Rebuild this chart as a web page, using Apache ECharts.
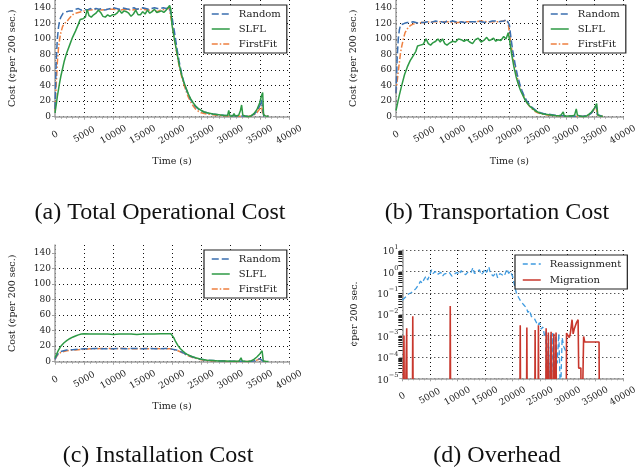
<!DOCTYPE html>
<html>
<head>
<meta charset="utf-8">
<script src="https://cdn.jsdelivr.net/npm/echarts@6/dist/echarts.min.js"></script>
<style>html,body{margin:0;padding:0;background:#fff;}#c{width:640px;height:472px;}</style>
</head>
<body>
<div id="c"></div>
<script>
// ---------- data (time in s, value) ----------
const xTicks = [0, 5000, 10000, 15000, 20000, 25000, 30000, 35000, 40000];
const costTicks = [0, 20, 40, 60, 80, 100, 120, 140];
const captions = ['(a) Total Operational Cost', '(b) Transportation Cost', '(c) Installation Cost', '(d) Overhead'];
const costSeriesNames = ['Random', 'SLFL', 'FirstFit'];
const overheadSeriesNames = ['Reassignment', 'Migration'];

const randomTotal = [[0,10],[200,70],[400,100],[600,115],[800,124],[1000,128],[1400,133],[2000,135],[2500,136],[3000,136],[3500,138],[4000,139],[4500,137],[5000,138],[5500,137],[6000,139],[6500,138],[7000,139],[7500,138],[8000,139],[8500,137],[9000,138],[9500,139],[10000,140],[10500,139],[11000,138],[11500,140],[12000,139],[12500,138],[13000,139],[13500,140],[14000,138],[14500,139],[15000,140],[15500,139],[16000,138],[16500,139],[17000,140],[17500,139],[18000,139],[18500,140],[19000,139],[19500,141],[19800,140],[20000,128],[20400,110],[20800,90],[21200,72],[21600,57],[22000,45],[22400,36],[22800,28],[23200,22],[23600,17],[24000,13],[24500,10],[25000,7.5],[25500,6],[26000,5],[27000,3.5],[28000,2.5],[29000,1.5],[30000,1.5],[31000,1],[32000,1],[33000,0.5],[33500,1],[34000,3],[34500,7],[35000,14],[35300,22],[35500,10],[35700,1],[36500,0.5]];
const slflTotal = [[0,5],[200,15],[400,26],[600,35],[800,44],[1000,52],[1300,62],[1600,72],[2000,82],[2500,92],[3000,102],[3500,110],[4000,119],[4300,125],[4800,126],[5200,128],[5500,138],[5800,130],[6200,128],[6600,131],[7000,133],[7400,137],[7800,134],[8200,129],[8600,128],[9000,131],[9400,129],[9800,131],[10200,131],[10600,133],[11000,137],[11400,133],[11800,136],[12200,135],[12600,133],[13000,129],[13400,132],[13800,137],[14200,131],[14600,131],[15000,135],[15400,132],[15800,137],[16200,133],[16600,135],[17000,138],[17400,134],[17800,135],[18200,136],[18600,134],[19000,137],[19300,138],[19600,143],[19800,138],[20000,118],[20400,100],[20800,84],[21200,68],[21600,55],[22000,45],[22400,37],[22800,29],[23200,23],[23600,18],[24000,14],[24500,10.5],[25000,8],[25500,6],[26000,5],[27000,3.5],[28000,2.5],[29000,1.5],[29500,1.5],[29700,8],[29900,1],[30400,1],[30600,4],[30800,1],[31400,2],[31700,8],[31900,15],[32100,2],[32500,1],[33000,0],[33500,1],[34000,4],[34500,9],[35000,18],[35300,27],[35500,31],[35650,2],[36000,1],[36500,0.5]];
const firstFitTotal = [[0,8],[200,40],[400,70],[600,88],[800,100],[1000,108],[1300,116],[1600,120],[2000,122],[2500,127],[3000,131],[3500,133],[4000,134],[4500,135],[5000,136],[5500,137],[6000,137],[7000,138],[8000,137],[9000,138],[10000,138],[11000,137],[12000,138],[13000,137],[14000,138],[15000,138],[16000,137],[17000,136],[17500,135],[18000,137],[19000,138],[19500,140],[19800,138],[20000,120],[20400,100],[20800,82],[21200,66],[21600,53],[22000,42],[22400,33],[22800,25],[23200,19],[23600,14],[24000,10],[24500,7],[25000,5],[25500,4],[26000,3.5],[27000,2.5],[28000,1.5],[29000,1],[30000,0.8],[31000,0.5],[32000,0.5],[33000,0.3],[34000,2],[34500,5],[35000,10],[35300,15],[35500,3],[35700,0.5],[36500,0.2]];

const randomTransport = [[0,30],[200,75],[400,100],[600,112],[800,118],[1000,120],[1500,120],[2000,121],[2500,121],[3000,122],[3500,121],[4000,120],[4500,121],[5000,121],[5500,122],[6000,121],[7000,123],[7500,122],[8000,122],[8500,121],[9000,123],[9500,122],[10000,123],[11000,121],[11500,122],[12000,121],[13000,122],[14000,122],[14500,123],[15000,122],[16000,121],[17000,123],[17500,123],[18000,122],[19000,123],[19500,125],[19800,124],[20000,118],[20300,100],[20600,85],[21000,68],[21400,54],[21800,43],[22200,34],[22600,27],[23000,21],[23500,16],[24000,12],[24500,9],[25000,6.5],[25500,5],[26000,4],[27000,3],[28000,2],[29000,1.5],[30000,1],[31000,1],[32000,0.5],[33000,0.5],[34000,2],[34500,5],[35000,10],[35300,15],[35500,3],[35700,0.5],[36500,0.3]];
const slflTransport = [[0,8],[300,18],[600,28],[1000,40],[1500,54],[2000,64],[2500,72],[3000,78],[3500,84],[3800,91],[4300,92],[4800,93],[5300,100],[5700,94],[6100,92],[6500,95],[7000,97],[7400,100],[7800,96],[8200,100],[8600,94],[9000,92],[9500,95],[10000,97],[10500,96],[11000,100],[11500,99],[12000,97],[12500,99],[13000,96],[13500,94],[14000,99],[14500,101],[15000,96],[15500,98],[16000,102],[16400,98],[16800,99],[17200,101],[17600,97],[18000,99],[18500,98],[19000,103],[19400,100],[19800,108],[20000,100],[20400,80],[20800,64],[21200,51],[21600,41],[22000,33],[22400,27],[22800,21],[23200,17],[23600,13.5],[24000,11],[24500,8],[25000,6],[25500,4.5],[26000,3.5],[27000,2.5],[28000,1.5],[29000,1],[29300,1],[29500,6],[29700,0.5],[30500,1],[30800,3],[31000,1],[31500,2],[31800,10],[32000,2],[32500,1],[33000,0],[33500,0.5],[34000,3],[34500,6],[35000,11],[35400,17],[35600,2],[36000,1],[36500,0.5]];
const firstFitTransport = [[0,30],[200,45],[400,58],[600,70],[800,82],[1000,90],[1300,100],[1600,108],[2000,113],[2500,117],[3000,119],[3500,120],[4000,120],[4500,121],[5000,121],[6000,122],[7000,122],[8000,122],[9000,122],[10000,121],[11000,121],[12000,122],[13000,122],[14000,122],[15000,123],[16000,122],[17000,122],[18000,122],[19000,123],[19500,124],[19800,120],[20000,108],[20300,92],[20600,78],[21000,62],[21400,50],[21800,40],[22200,32],[22600,25],[23000,19],[23500,14],[24000,10],[24500,7],[25000,5],[25500,4],[26000,3],[27000,2],[28000,1.5],[29000,1],[30000,0.8],[31000,0.5],[32000,0.5],[33000,0.3],[34000,2],[34500,5],[35000,10],[35300,15],[35500,2],[35700,0.5],[36500,0.2]];

const randomInstall = [[0,3],[300,8],[600,11],[1000,13],[1500,14],[2000,15],[3000,15.5],[4000,16],[5000,16.5],[6000,16.5],[7000,17],[8000,16.5],[9000,16.5],[10000,16.5],[11000,17],[12000,16.5],[13000,17],[14000,17],[15000,16.5],[16000,17],[17000,16.5],[18000,16.5],[19000,17],[19800,16.5],[20000,16],[20500,15.5],[21000,14.5],[21500,13],[22000,11],[22500,9],[23000,7.5],[23500,6],[24000,5],[24500,4],[25000,3],[26000,2],[27000,1.5],[28000,1],[29000,0.8],[30000,0.5],[31000,0.5],[32000,0.5],[33000,0.3],[34000,1],[34500,2],[35000,4],[35300,6],[35500,1],[36000,0.3]];
const slflInstall = [[0,5],[300,10],[600,15],[1000,20],[1500,24],[2000,27],[2500,29.5],[3000,31.5],[3500,33],[4000,34.5],[4500,35.5],[5000,36],[6000,35.5],[7000,35.5],[8000,35.5],[9000,35.5],[10000,35],[11000,35.5],[12000,35.5],[13000,35.5],[14000,35],[15000,35.5],[16000,35.5],[17000,35.5],[18000,36],[19000,36],[19800,36],[20000,35],[20300,31],[20600,26],[21000,21],[21400,17],[21800,14],[22200,11.5],[22600,9.5],[23000,8],[23500,6.5],[24000,5],[24500,4],[25000,3],[26000,2],[27000,1.5],[28000,1],[29000,0.8],[30000,0.6],[31000,0.5],[31500,1],[31800,5],[32000,1],[32500,0.5],[33000,0.3],[33500,1],[34000,3],[34500,6],[35000,10],[35400,14],[35600,1],[36000,0.5],[36500,0.3]];
const firstFitInstall = [[0,3],[300,7],[600,10],[1000,12],[1500,13],[2000,14],[3000,15],[4000,15.5],[5000,16],[6000,16.5],[7000,16.5],[8000,17],[9000,17],[10000,16.5],[11000,17],[12000,17],[13000,16.5],[14000,16.5],[15000,17],[16000,16.5],[17000,17],[18000,16.5],[19000,16.5],[19800,16.5],[20000,16],[20500,15],[21000,14],[21500,12.5],[22000,10.5],[22500,8.5],[23000,7],[23500,5.5],[24000,4.5],[24500,3.5],[25000,2.5],[26000,1.5],[27000,1],[28000,0.8],[29000,0.5],[30000,0.3],[31000,0.3],[32000,0.3],[33000,0.2],[34000,1],[34500,2],[35000,3.5],[35300,5],[35500,1],[36000,0.2]];

const reassignment = [[0,0.045],[200,0.05],[500,0.06],[800,0.07],[1200,0.09],[1600,0.1],[2000,0.12],[2500,0.16],[3000,0.25],[3300,0.35],[3600,0.28],[4000,0.45],[4300,0.6],[4600,0.4],[5000,0.7],[5300,1.2],[5600,0.8],[6000,1.0],[6300,0.7],[6600,0.8],[7000,0.9],[7300,0.6],[7600,0.75],[8000,0.8],[8500,0.9],[9000,0.6],[9300,0.5],[9600,0.8],[10000,0.9],[10300,0.7],[10700,1.1],[11000,0.8],[11500,0.7],[12000,1.0],[12500,0.9],[12800,1.5],[13100,0.8],[13500,0.9],[14000,1.2],[14300,0.7],[14700,0.9],[15000,1.3],[15300,0.9],[15700,1.6],[16000,0.8],[16500,0.6],[17000,0.9],[17300,0.5],[17700,0.8],[18000,0.9],[18500,0.6],[19000,1.3],[19300,0.8],[19600,1.0],[20000,0.6],[20400,0.2],[20700,0.1],[21100,0.06],[21500,0.04],[21900,0.03],[22200,0.025],[22500,0.02],[22800,0.012],[23100,0.015],[23400,0.008],[23700,0.009],[24000,0.006],[24300,0.005],[24600,0.003],[24900,0.004],[25200,0.002],[25500,0.0025],[25800,0.001],[26000,0.0015],[26200,0.000001],[26500,0.0012],[26700,0.000001],[26900,0.001],[27100,0.00002],[27300,0.0013],[27500,0.000001],[27800,0.001],[28100,0.00005],[28400,0.0012],[28700,0.000001],[29000,0.0008],[29300,0.0003],[29600,0.0002],[29800,0.0002]];
const migration = [[0,1e-9],[200,1e-9],[300,0.001],[400,1e-9],[700,1e-9],[800,0.0022],[900,1e-9],[1800,1e-9],[1900,0.008],[2000,1e-9],[8600,1e-9],[8700,0.024],[8800,1e-9],[21300,1e-9],[21400,0.003],[21500,1e-9],[22500,1e-9],[22600,0.0024],[22700,1e-9],[24000,1e-9],[24100,0.0018],[24200,1e-9],[24600,1e-9],[24700,0.003],[24800,1e-9],[26000,1e-9],[26100,0.0022],[26200,1e-9],[26400,1e-9],[26500,0.0014],[26600,1e-9],[26900,1e-9],[27000,0.0015],[27100,1e-9],[27400,1e-9],[27500,0.0012],[27600,1e-9],[27800,1e-9],[27900,0.0014],[28000,1e-9],[29700,1e-9],[29800,0.0013],[30100,0.0015],[30300,0.0008],[30500,0.0013],[30800,0.0055],[31000,0.0012],[31200,0.002],[31600,0.004],[31900,0.0055],[32000,0.00003],[32400,0.00003],[32500,1e-9],[32800,1e-9],[32900,0.0009],[33100,0.0005],[35700,0.0005],[35800,1e-9],[40000,1e-9]];

// ---------- style ----------
const C_RANDOM = '#3b6fb0', C_SLFL = '#2e9a45', C_FF = '#ee8040', C_REA = '#3f9be0', C_MIG = '#c8372d';
const DASH_RANDOM = [7, 3], DASH_FF = [6, 2, 1.5, 2], DASH_REA = [5, 3];
const SERIF = 'DejaVu Serif';
const grids = [
  {left: 55, top: 0, width: 234, height: 116.7},
  {left: 396, top: 0, width: 234, height: 116.7},
  {left: 55, top: 245, width: 234, height: 116.7},
  {left: 402.3, top: 250, width: 227.7, height: 128.3}
];

function xAxis(i, withName) {
  return {
    type: 'value', gridIndex: i, min: 0, max: 40000, interval: 5000,
    name: withName ? 'Time (s)' : '', nameLocation: 'middle', nameGap: 40,
    nameTextStyle: {fontFamily: SERIF, fontSize: 9.5, color: '#222'},
    axisLine: {lineStyle: {color: '#a0a0a0', width: 1.5}},
    axisTick: {show: true, length: 3, lineStyle: {color: '#a0a0a0', width: 1}},
    minorTick: {show: true, splitNumber: 5, length: 2, lineStyle: {color: '#a0a0a0'}},
    axisLabel: {rotate: 30, fontFamily: SERIF, fontSize: 9, color: '#222', margin: 18,
                align: 'center', verticalAlign: 'middle',
                customValues: xTicks, formatter: v => String(v)},
    splitLine: {show: true, lineStyle: {type: [1, 3], color: '#111', width: 1}}
  };
}
function costAxis(i) {
  return {
    type: 'value', gridIndex: i, min: 0, max: 150, interval: 10,
    name: 'Cost (¢per 200 sec.)', nameLocation: 'middle', nameGap: 37,
    nameTextStyle: {fontFamily: SERIF, fontSize: 9.5, color: '#222'},
    axisLine: {show: true, lineStyle: {color: '#a0a0a0', width: 1.5}},
    axisTick: {show: true, length: 3, customValues: costTicks, lineStyle: {color: '#a0a0a0'}},
    axisLabel: {fontFamily: SERIF, fontSize: 9, color: '#222', margin: 4, customValues: costTicks},
    splitLine: {show: true, showMaxLine: false, lineStyle: {type: [1, 3], color: '#111', width: 1}}
  };
}
function costSeries(i, r, s, f) {
  return [
    {name: 'Random', type: 'line', xAxisIndex: i, yAxisIndex: i, data: r, showSymbol: false, symbol: 'none',
     lineStyle: {color: C_RANDOM, width: 1.5, type: DASH_RANDOM}, itemStyle: {color: C_RANDOM}, z: 3},
    {name: 'SLFL', type: 'line', xAxisIndex: i, yAxisIndex: i, data: s, showSymbol: false, symbol: 'none',
     lineStyle: {color: C_SLFL, width: 1.5}, itemStyle: {color: C_SLFL}, z: 4},
    {name: 'FirstFit', type: 'line', xAxisIndex: i, yAxisIndex: i, data: f, showSymbol: false, symbol: 'none',
     lineStyle: {color: C_FF, width: 1.5, type: DASH_FF}, itemStyle: {color: C_FF}, z: 2}
  ];
}
const legendLineTypes = {Random: [DASH_RANDOM, C_RANDOM], SLFL: ['solid', C_SLFL], FirstFit: [DASH_FF, C_FF],
                         Reassignment: [DASH_REA, C_REA], Migration: ['solid', C_MIG]};
function legend(left, top, names, width) {
  return {
    left: left, top: top, orient: 'vertical', selectedMode: false,
    data: names.map(n => ({name: n, lineStyle: {type: legendLineTypes[n][0], color: legendLineTypes[n][1], width: 1.5}})),
    itemWidth: 18, itemHeight: 10, itemGap: 5, padding: [4, 6, 4, 7],
    itemStyle: {opacity: 0, borderWidth: 0},
    backgroundColor: '#fff', borderColor: '#222', borderWidth: 1.2, borderRadius: 0,
    textStyle: {fontFamily: SERIF, fontSize: 10, color: '#222', padding: [0, 0, 0, 4], width: width},
    z: 10
  };
}

const option = {
  animation: false,
  backgroundColor: '#fff',
  grid: grids,
  xAxis: [xAxis(0, true), xAxis(1, true), xAxis(2, true), xAxis(3, false)],
  yAxis: [costAxis(0), costAxis(1), costAxis(2), {
    type: 'log', gridIndex: 3, min: 0.00001, max: 10, logBase: 10, splitNumber: 6,
    name: '¢per 200 sec.', nameLocation: 'middle', nameGap: 43,
    nameTextStyle: {fontFamily: SERIF, fontSize: 9.5, color: '#222'},
    axisLine: {show: true, lineStyle: {color: '#a0a0a0', width: 1.5}},
    axisTick: {show: true, length: 3, lineStyle: {color: '#a0a0a0'}},
    minorTick: {show: true, splitNumber: 9, length: 4, lineStyle: {color: '#222', width: 1}},
    axisLabel: {fontFamily: SERIF, fontSize: 9, color: '#222', margin: 4,
                formatter: v => '{b|10}{s|' + String(Math.round(Math.log10(v))).replace('-', '−') + '}',
                rich: {
                  b: {fontFamily: SERIF, fontSize: 9, color: '#222', lineHeight: 13, verticalAlign: 'bottom'},
                  s: {fontFamily: SERIF, fontSize: 6.5, color: '#222', lineHeight: 8, verticalAlign: 'top'}
                }},
    splitLine: {show: true, lineStyle: {type: [1, 3], color: '#111', width: 1}}
  }],
  legend: [
    legend(204, 5, costSeriesNames, 42),
    legend(543, 5, costSeriesNames, 42),
    legend(204, 250, costSeriesNames, 42),
    Object.assign(legend(515, 255, overheadSeriesNames, 72), {itemGap: 6})
  ],
  series: [].concat(
    costSeries(0, randomTotal, slflTotal, firstFitTotal),
    costSeries(1, randomTransport, slflTransport, firstFitTransport),
    costSeries(2, randomInstall, slflInstall, firstFitInstall),
    [
      {name: 'Reassignment', type: 'line', xAxisIndex: 3, yAxisIndex: 3, data: reassignment, showSymbol: false, symbol: 'none',
       lineStyle: {color: C_REA, width: 1.3, type: DASH_REA}, itemStyle: {color: C_REA}, z: 3},
      {name: 'Migration', type: 'line', xAxisIndex: 3, yAxisIndex: 3, data: migration, showSymbol: false, symbol: 'none',
       lineStyle: {color: C_MIG, width: 1.6}, itemStyle: {color: C_MIG}, z: 4}
    ]
  )
};
// captions
const capPos = [[160, 213], [497, 213], [158, 456], [497, 456]];
option.graphic = captions.map((t, i) => ({
  type: 'text', x: capPos[i][0], y: capPos[i][1], silent: true,
  style: {text: t, fontFamily: 'Liberation Serif', fontSize: 24, fill: '#111', textAlign: 'center', textVerticalAlign: 'middle'}
}));

const chart = echarts.init(document.getElementById('c'), null, {renderer: 'canvas'});
chart.setOption(option);
</script>
</body>
</html>
